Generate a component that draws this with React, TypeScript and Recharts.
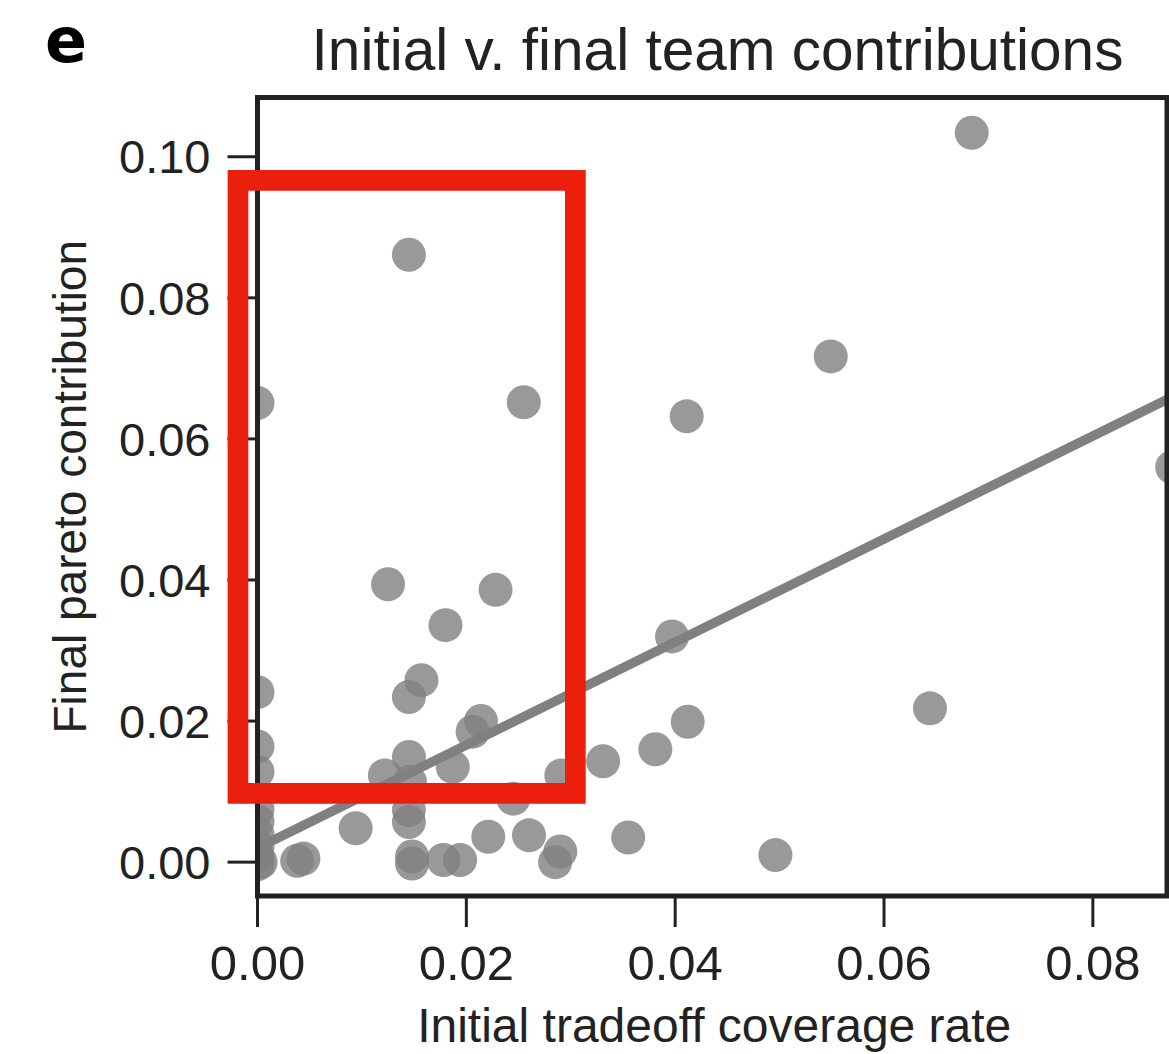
import { ComposedChart, Scatter, Line, XAxis, YAxis, ReferenceArea, Label } from "recharts";

// initial tradeoff coverage rate (x) and final pareto contribution (y), one entry per team
const initialCoverage = [
  0.0684, 0.0145, 0.0255, 0.0, 0.0549, 0.0411, 0.0876, 0.0125, 0.0228, 0.018,
  0.0157, 0.0145, 0.0, 0.0397, 0.0214, 0.0206, 0.0412, 0.0644, 0.0381, 0.0331,
  0.0, 0.0, 0.0145, 0.0122, 0.0187, 0.0291, 0.0146, 0.0245, 0.0145, 0.0145,
  0.0094, 0.0221, 0.026, 0.0355, 0.029, 0.0285, 0.0496, 0.0148, 0.0148, 0.0178,
  0.0194, 0.0038, 0.0044, 0.0, 0.0, 0.0, 0.0, 0.0, 0.0, 0.0003,
];
const finalContribution = [
  0.1034, 0.0861, 0.0652, 0.0651, 0.0717, 0.0632, 0.056, 0.0394, 0.0386, 0.0336,
  0.0258, 0.0234, 0.0241, 0.032, 0.02, 0.0185, 0.0199, 0.0218, 0.016, 0.0143,
  0.0164, 0.0128, 0.0149, 0.0123, 0.0135, 0.0123, 0.0114, 0.009, 0.0074, 0.0057,
  0.0048, 0.0036, 0.0038, 0.0035, 0.0015, 0.0, 0.001, 0.0008, -0.0002, 0.0003,
  0.0003, 0.0002, 0.0005, 0.0075, 0.0058, 0.004, 0.0022, 0.0008, -0.0003, 0.0,
];

// regression fit endpoints
const fitX = [0, 0.0871];
const fitY = [0.002, 0.0656];

// highlighted region
const boxX = [-0.00187, 0.03044];
const boxY = [0.00974, 0.09664];

const xTicks = [0, 0.02, 0.04, 0.06, 0.08];
const yTicks = [0, 0.02, 0.04, 0.06, 0.08, 0.1];
const xDomain = [0, 0.0871];
const yDomain = [-0.0048, 0.1084];

const title = "Initial v. final team contributions";
const panel = "e";
const xLabel = "Initial tradeoff coverage rate";
const yLabel = "Final pareto contribution";

const points = initialCoverage.map((x, i) => ({ x, y: finalContribution[i] }));
const fitLine = fitX.map((x, i) => ({ x, y: fitY[i] }));

const FONT = "'Liberation Sans', Arial, sans-serif";
const INK = "#222";

const Dot = (props: any) => (
  <circle cx={props.cx} cy={props.cy} r={17} fill="#808080" fillOpacity={0.8} />
);

const XTitle = ({ viewBox }: any) => {
  const vb = viewBox ?? { x: 257.5, y: 896, width: 909.5, height: 158 };
  return (
    <text
      x={vb.x + vb.width / 2 + 2}
      y={vb.y + 146}
      textAnchor="middle"
      fontSize={48}
      fontFamily={FONT}
      fill={INK}
    >
      {xLabel}
    </text>
  );
};

const YTitle = ({ viewBox }: any) => {
  const vb = viewBox ?? { x: 0, y: 97.5, width: 257.5, height: 798.5 };
  const cx = vb.x + 86;
  const cy = vb.y + vb.height / 2 - 10;
  return (
    <text
      x={cx}
      y={cy}
      textAnchor="middle"
      fontSize={46}
      fontFamily={FONT}
      fill={INK}
      transform={`rotate(-90, ${cx}, ${cy})`}
    >
      {yLabel}
    </text>
  );
};

export default function App() {
  return (
    <div
      style={{
        position: "absolute",
        left: 0,
        top: 0,
        width: 1169,
        height: 1054,
        background: "#fff",
        overflow: "hidden",
      }}
    >
      <ComposedChart
        width={1169}
        height={1054}
        margin={{ top: 97.5, right: 2, bottom: 0, left: 0 }}
      >
        <XAxis
          type="number"
          dataKey="x"
          domain={xDomain}
          allowDataOverflow
          ticks={xTicks}
          interval={0}
          tickFormatter={(v: number) => v.toFixed(2)}
          height={158}
          axisLine={false}
          tickLine={{ stroke: INK, strokeWidth: 3 }}
          tickSize={31}
          tickMargin={18}
          tick={{ fill: INK, fontSize: 49, fontFamily: FONT }}
        >
          <Label content={<XTitle />} />
        </XAxis>
        <YAxis
          type="number"
          dataKey="y"
          domain={yDomain}
          allowDataOverflow
          ticks={yTicks}
          interval={0}
          tickFormatter={(v: number) => v.toFixed(2)}
          width={257.5}
          axisLine={false}
          tickLine={{ stroke: INK, strokeWidth: 3 }}
          tickSize={30}
          tickMargin={17}
          tick={{ fill: INK, fontSize: 47, fontFamily: FONT }}
        >
          <Label content={<YTitle />} />
        </YAxis>
        <Scatter
          data={points}
          dataKey="y"
          shape={Dot}
          isAnimationActive={false}
          zIndex={600}
        />
        <Line
          data={fitLine}
          dataKey="y"
          type="linear"
          stroke="#808080"
          strokeWidth={9.5}
          dot={false}
          activeDot={false}
          isAnimationActive={false}
          zIndex={700}
        />
        <ReferenceArea
          x1={xDomain[0]}
          x2={xDomain[1]}
          y1={yDomain[0]}
          y2={yDomain[1]}
          fill="none"
          stroke={INK}
          strokeWidth={5}
          ifOverflow="visible"
          zIndex={800}
        />
        <ReferenceArea
          x1={boxX[0]}
          x2={boxX[1]}
          y1={boxY[0]}
          y2={boxY[1]}
          fill="none"
          stroke="#ec1f0e"
          strokeWidth={20.7}
          ifOverflow="visible"
          zIndex={900}
        />
      </ComposedChart>
      <svg
        width={1169}
        height={1054}
        style={{ position: "absolute", left: 0, top: 0, pointerEvents: "none" }}
      >
        <text x={45} y={62} fontSize={62} fontWeight="bold" fontFamily="'DejaVu Sans', sans-serif" fill="#000">
          {panel}
        </text>
        <text x={717.5} y={69.5} textAnchor="middle" fontSize={58.5} fontFamily={FONT} fill={INK}>
          {title}
        </text>
      </svg>
    </div>
  );
}
